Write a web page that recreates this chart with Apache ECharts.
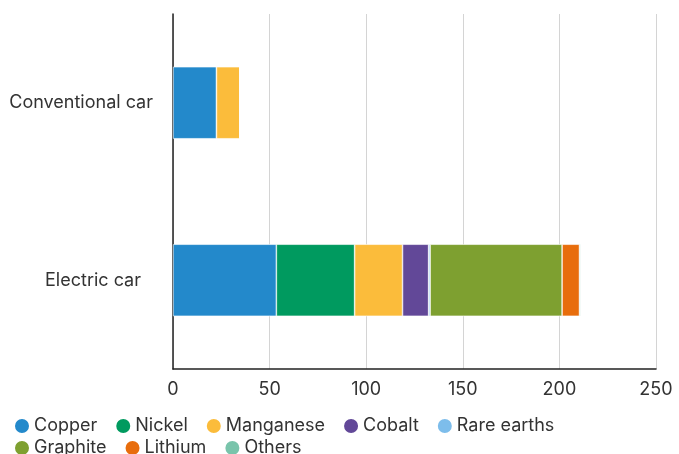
<!DOCTYPE html>
<html>
<head>
<meta charset="utf-8">
<script src="https://cdn.jsdelivr.net/npm/echarts@6/dist/echarts.min.js"></script>
<style>
  html, body { margin: 0; padding: 0; background: #fff; }
  #chart { width: 679px; height: 454px; }
</style>
</head>
<body>
<div id="chart"></div>
<script>
// Minerals used per car type (kg per vehicle)
const categories = ['Conventional car', 'Electric car'];
const minerals = ['Copper', 'Nickel', 'Manganese', 'Cobalt', 'Rare earths', 'Graphite', 'Lithium', 'Others'];
const copper     = [22.5, 53.5];
const nickel     = [0, 40.5];
const manganese  = [12.2, 24.8];
const cobalt     = [0, 13.5];
const rareEarths = [0, 0.8];
const graphite   = [0, 68.3];
const lithium    = [0, 9.0];
const others     = [0.3, 0.5];
const xTicks = [0, 50, 100, 150, 200, 250];

const values = [copper, nickel, manganese, cobalt, rareEarths, graphite, lithium, others];
const colors = ['#2389cb', '#009a5f', '#fbbc3b', '#624898', '#7dbdeb', '#7ea030', '#e86d0c', '#79c4ab'];
const font = 'Inter, "Noto Sans", sans-serif';

const chart = echarts.init(document.getElementById('chart'), null, { renderer: 'canvas' });

// two legend rows, laid out separately so the row spacing stays tight
const legendRow = (names, top) => ({
  data: names,
  left: 13,
  top,
  orient: 'horizontal',
  icon: 'circle',
  itemWidth: 16,
  itemHeight: 16,
  itemGap: 17,
  padding: 0,
  textStyle: { fontFamily: font, fontSize: 18, color: '#333', padding: [0, 0, 0, -1] }
});

chart.setOption({
  animation: false,
  color: colors,
  grid: { left: 173, right: 23, top: 14, bottom: 85, containLabel: false },
  legend: [
    legendRow(minerals.slice(0, 5), 417),
    legendRow(minerals.slice(5), 439)
  ],
  xAxis: {
    type: 'value',
    min: xTicks[0],
    max: xTicks[xTicks.length - 1],
    interval: 50,
    axisLine: { show: true, lineStyle: { color: '#222', width: 1.5 } },
    axisTick: { show: false },
    splitLine: { show: true, lineStyle: { color: '#d4d4d4', width: 1 } },
    axisLabel: { fontFamily: font, fontSize: 18, color: '#333', margin: 12 }
  },
  yAxis: {
    type: 'category',
    data: categories,
    inverse: true,
    axisLine: { show: true, lineStyle: { color: '#222', width: 1.5 } },
    axisTick: { show: false },
    axisLabel: {
      fontFamily: font, fontSize: 18, color: '#333', margin: 20,
      formatter: v => v === 'Electric car' ? '{e|' + v + '}' : '{c|' + v + '}',
      rich: {
        c: { fontFamily: font, fontSize: 18, color: '#333' },
        e: { fontFamily: font, fontSize: 18, color: '#333', padding: [0, 12, 0, 0] }
      }
    }
  },
  series: minerals.map((name, i) => ({
    name,
    type: 'bar',
    stack: 'total',
    barWidth: 72,
    data: values[i],
    itemStyle: { borderColor: '#fff', borderWidth: 0.6 }
  }))
});
</script>
</body>
</html>
